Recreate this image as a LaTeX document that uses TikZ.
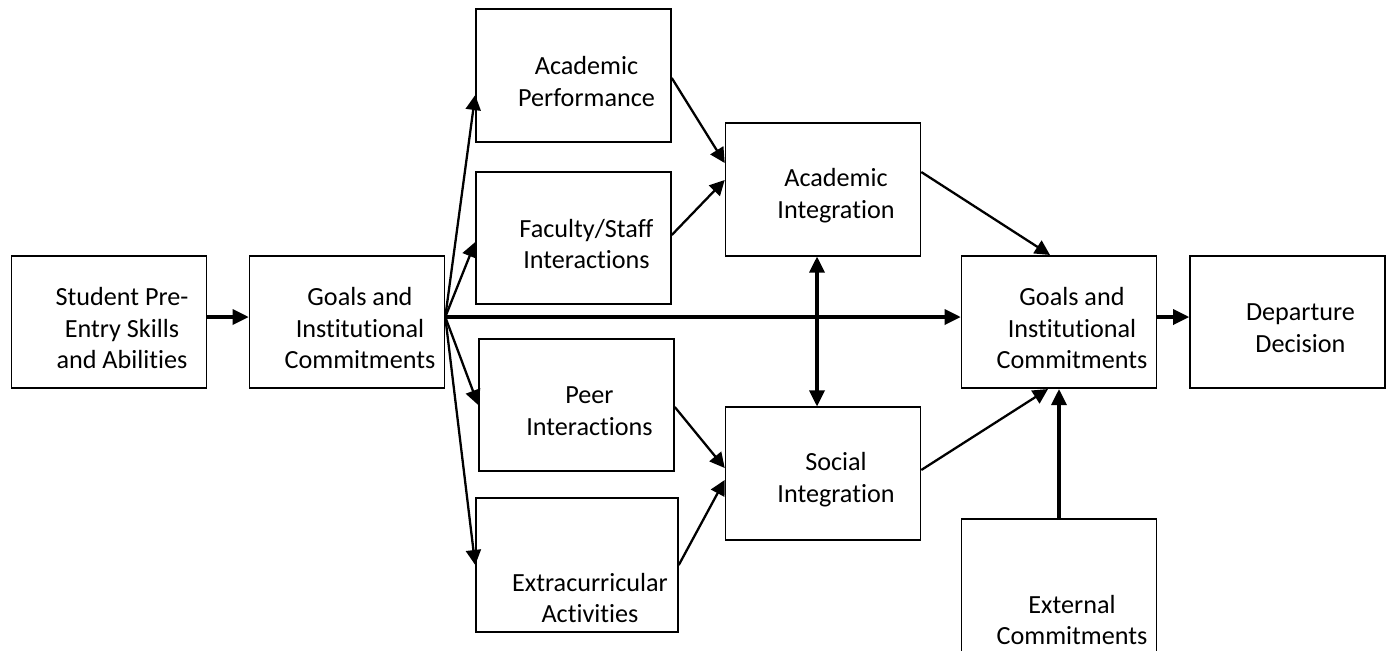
\documentclass[tikz,border=0pt]{standalone}
\usepackage{fontspec}
\setmainfont{Carlito}[Ligatures=NoCommon]
\usetikzlibrary{arrows.meta}

\tikzset{
  box/.style={draw, line width=0.9pt, minimum width=3.9cm, minimum height=2.65cm, inner sep=0pt},
  lbl/.style={align=center, inner sep=0pt, font=\fontsize{14.9}{18.2}\selectfont},
  txt/.style={lbl, xshift=0.26cm, yshift=-0.12cm},
  lowtxt/.style={lbl, xshift=0.26cm, yshift=-0.66cm},
  link/.style={line width=1.3pt, -{Triangle[length=0.3cm,width=0.3cm]}},
  mainlink/.style={line width=1.9pt, -{Triangle[length=0.32cm,width=0.3cm]}},
  bothlink/.style={line width=1.9pt, {Triangle[length=0.32cm,width=0.3cm]}-{Triangle[length=0.32cm,width=0.3cm]}}
}

\begin{document}
\begin{tikzpicture}[x=0.02cm,y=-0.02cm]
    \useasboundingbox (0,0) rectangle (1394,650);

    \node[box, label={[txt]center:Student Pre-\\Entry Skills\\and Abilities}] (student) at (109,322) {};
    \node[box, label={[txt]center:Goals and\\Institutional\\Commitments}] (goalsA) at (347,322) {};

    \node[box, label={[txt]center:Academic\\Performance}] (perf) at (573.5,75.5) {};
    \node[box, label={[txt]center:Faculty/Staff\\Interactions}] (faculty) at (573.5,238) {};
    \node[box, label={[txt]center:Peer\\Interactions}] (peer) at (576.5,405) {};
    \node[box, minimum width=4.04cm, minimum height=2.68cm,
          label={[lowtxt]center:Extracurricular\\Activities}] (extra) at (577,565) {};

    \node[box, label={[txt]center:Academic\\Integration}] (acadint) at (823,189.5) {};
    \node[box, label={[txt]center:Social\\Integration}] (socint) at (823,473.5) {};

    \node[box, label={[txt]center:Goals and\\Institutional\\Commitments}] (goalsB) at (1059,322) {};
    \node[box, label={[txt]center:Departure\\Decision}] (depart) at (1287.5,322) {};
    \node[box, minimum height=2.72cm,
          label={[lowtxt]center:External\\Commitments}] (ext) at (1059,587) {};

    \coordinate (fan) at ([yshift=0.1cm]goalsA.east);

    \draw[mainlink] (student.east |- fan) -- (goalsA.west |- fan);
    \draw[link] (fan) -- ([yshift=-0.39cm]perf.west);
    \draw[link] (fan) -- ([yshift=-0.08cm]faculty.west);
    \draw[link] (fan) -- (peer.west);
    \draw[link] (fan) -- (extra.west);
    \draw[mainlink] (fan) -- (fan -| goalsB.west);

    \draw[link] ([yshift=-0.05cm]perf.east) -- ([yshift=0.53cm]acadint.west);
    \draw[link] ([yshift=0.06cm]faculty.east) -- ([yshift=0.19cm]acadint.west);
    \draw[link] ([yshift=-0.04cm]peer.east) -- ([yshift=0.11cm]socint.west);
    \draw[link] (extra.east) -- ([yshift=-0.13cm]socint.west);

    \draw[bothlink] ([xshift=-0.12cm]acadint.south) -- ([xshift=-0.12cm]socint.north);

    \draw[link] ([yshift=0.35cm]acadint.east) -- ([xshift=-0.18cm]goalsB.north);
    \draw[link] ([yshift=0.07cm]socint.east) -- ([xshift=-0.22cm]goalsB.south);
    \draw[mainlink] (ext.north) -- (goalsB.south);
    \draw[mainlink] (goalsB.east |- fan) -- (depart.west |- fan);
\end{tikzpicture}
\end{document}
